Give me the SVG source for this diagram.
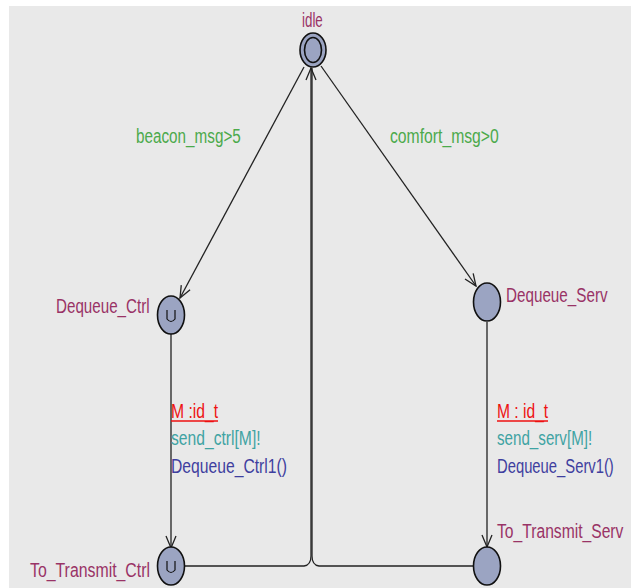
<svg xmlns="http://www.w3.org/2000/svg" width="631" height="588" viewBox="0 0 631 588">
  <style>
    text { font-family: "Liberation Sans", Arial, sans-serif; font-size: 20px; }
    .loc { fill: #993366; }
    .guard { fill: #4caa4c; }
    .sel { fill: #ee1111; }
    .sync { fill: #3fa3a3; }
    .upd { fill: #3f3f9f; }
    .node { fill: #9ba4c2; stroke: #111; stroke-width: 1.6; }
    .edge { fill: none; stroke: #222; stroke-width: 1.3; }
    .urg { fill: none; stroke: #111; stroke-width: 1.2; }
  </style>
  <defs>
    <marker id="arrow" markerWidth="14" markerHeight="12" refX="13" refY="6" orient="auto" markerUnits="userSpaceOnUse">
      <path d="M1,1 L13,6 L1,11" fill="none" stroke="#222" stroke-width="1.3"/>
    </marker>
  </defs>

  <rect x="0" y="0" width="631" height="588" fill="#ffffff"/>
  <rect x="9" y="6" width="622" height="582" fill="#e9e9e9"/>

  <!-- texts are drawn horizontally condensed: scale(0.8,1) with textLength in local units -->
  <g id="connectors">
    <line class="edge" x1="304" y1="67" x2="180" y2="298" marker-end="url(#arrow)"/>
    <line class="edge" x1="321" y1="66" x2="476" y2="286" marker-end="url(#arrow)"/>
    <line class="edge" x1="171" y1="334" x2="171" y2="548" marker-end="url(#arrow)"/>
    <line class="edge" x1="487" y1="322" x2="487" y2="547" marker-end="url(#arrow)"/>
    <path class="edge" d="M185,566 L304,566 Q311,565 311,556 L311,68" marker-end="url(#arrow)"/>
    <path class="edge" d="M473,566 L319,566 Q312,565 312,556 L312,68"/>
    <text class="guard" transform="translate(136,143) scale(0.8,1)" textLength="131" lengthAdjust="spacingAndGlyphs">beacon_msg&gt;5</text>
    <text class="guard" transform="translate(390,143) scale(0.8,1)" textLength="136" lengthAdjust="spacingAndGlyphs">comfort_msg&gt;0</text>
    <text class="sel" transform="translate(171,418) scale(0.8,1)" textLength="59" lengthAdjust="spacingAndGlyphs">M :id_t</text>
    <line x1="171" y1="421" x2="218" y2="421" stroke="#ee1111" stroke-width="1.3"/>
    <text class="sync" transform="translate(171,445) scale(0.8,1)" textLength="112" lengthAdjust="spacingAndGlyphs">send_ctrl[M]!</text>
    <text class="upd" transform="translate(171,473) scale(0.8,1)" textLength="145" lengthAdjust="spacingAndGlyphs">Dequeue_Ctrl1()</text>
    <text class="sel" transform="translate(497,418) scale(0.8,1)" textLength="64" lengthAdjust="spacingAndGlyphs">M : id_t</text>
    <line x1="497" y1="421" x2="548" y2="421" stroke="#ee1111" stroke-width="1.3"/>
    <text class="sync" transform="translate(497,445) scale(0.8,1)" textLength="119" lengthAdjust="spacingAndGlyphs">send_serv[M]!</text>
    <text class="upd" transform="translate(497,473) scale(0.8,1)" textLength="146" lengthAdjust="spacingAndGlyphs">Dequeue_Serv1()</text>
  </g>

  <g id="idle">
    <ellipse class="node" cx="313" cy="50" rx="13" ry="17"/>
    <ellipse class="node" cx="313" cy="50" rx="8.5" ry="12.5"/>
    <text class="loc" transform="translate(302,27) scale(0.8,1)" textLength="26" lengthAdjust="spacingAndGlyphs">idle</text>
  </g>

  <g id="Dequeue_Ctrl">
    <ellipse class="node" cx="171" cy="315" rx="13.5" ry="19"/>
    <path class="urg" d="M167,310 L167,319 Q171,324 175,319 L175,310"/>
    <text class="loc" transform="translate(56,313) scale(0.8,1)" textLength="117" lengthAdjust="spacingAndGlyphs">Dequeue_Ctrl</text>
  </g>

  <g id="Dequeue_Serv">
    <ellipse class="node" cx="487" cy="302" rx="13.5" ry="19"/>
    <text class="loc" transform="translate(506,302) scale(0.8,1)" textLength="127" lengthAdjust="spacingAndGlyphs">Dequeue_Serv</text>
  </g>

  <g id="To_Transmit_Ctrl">
    <ellipse class="node" cx="171" cy="566" rx="13.5" ry="19"/>
    <path class="urg" d="M167,561 L167,570 Q171,575 175,570 L175,561"/>
    <text class="loc" transform="translate(30,577) scale(0.8,1)" textLength="150" lengthAdjust="spacingAndGlyphs">To_Transmit_Ctrl</text>
  </g>

  <g id="To_Transmit_Serv">
    <ellipse class="node" cx="487" cy="566" rx="13.5" ry="19"/>
    <text class="loc" transform="translate(497,538) scale(0.8,1)" textLength="158" lengthAdjust="spacingAndGlyphs">To_Transmit_Serv</text>
  </g>
</svg>
